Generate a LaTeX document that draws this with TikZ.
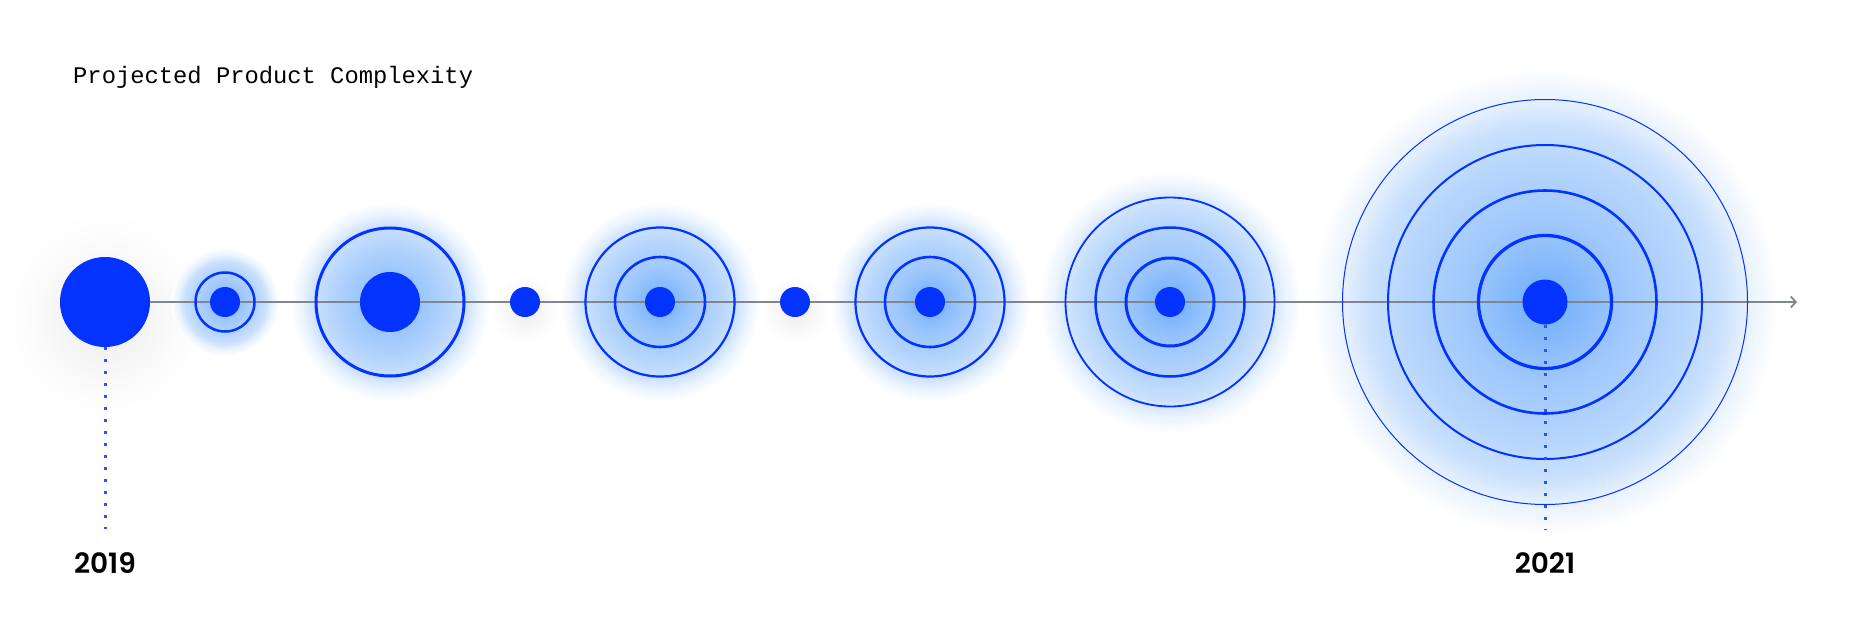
\documentclass[tikz,border=0pt]{standalone}
\usepackage{fontspec}
\newfontfamily\headfont{Liberation Mono}
\newfontfamily\yearfont{Poppins SemiBold}
\usetikzlibrary{arrows.meta,backgrounds}
\definecolor{pulseblue}{RGB}{4,51,255}
\definecolor{glowblue}{RGB}{110,172,250}
\definecolor{axisgray}{RGB}{128,134,142}
\definecolor{shadowgray}{RGB}{236,236,238}
\pgfdeclareradialshading{glowshade}{\pgfpoint{0bp}{0bp}}{color(0bp)=(glowblue); color(8bp)=(glowblue!68!white); color(15bp)=(glowblue!50!white); color(19bp)=(glowblue!36!white); color(22bp)=(glowblue!14!white); color(25bp)=(white); color(50bp)=(white)}
\pgfdeclareradialshading{shadowshade}{\pgfpoint{0bp}{0bp}}{color(0bp)=(shadowgray); color(10bp)=(shadowgray!55!white); color(19bp)=(shadowgray!15!white); color(25bp)=(white); color(50bp)=(white)}
\tikzset{
  dot/.style={circle, fill=pulseblue, inner sep=0pt, minimum size=#1},
  ring/.style={circle, draw=pulseblue, inner sep=0pt, minimum size=#1},
  halo/.style={circle, shade, shading=glowshade, inner sep=0pt, minimum size=#1},
  shadowhalo/.style={circle, shade, shading=shadowshade, inner sep=0pt, minimum size=#1},
  axis/.style={-{Straight Barb[length=5pt, width=11pt]}, line width=1.8pt, axisgray},
  guide/.style={line width=3pt, pulseblue!85!white, dash pattern=on 3pt off 9pt},
  title/.style={anchor=base west, inner sep=0pt, font=\headfont\fontsize{23.8pt}{28pt}\selectfont},
  year/.style={anchor=base, inner sep=0pt, font=\yearfont\fontsize{28pt}{32pt}\selectfont},
}

\begin{document}
\begin{tikzpicture}[x=1pt, y=-1pt]
\useasboundingbox (0,0) rectangle (1857,642);
\node[title] (head) at (73,84) {Projected Product Complexity};

% centres along the time line
\node[dot=90pt] (c1) at (105,302) {};
\node[dot=30pt] (c2) at (225,302) {};
\node[dot=60pt] (c3) at (390,302) {};
\node[dot=30pt] (c4) at (525,302) {};
\node[dot=30pt] (c5) at (660,302) {};
\node[dot=30pt] (c6) at (795,302) {};
\node[dot=30pt] (c7) at (930,302) {};
\node[dot=30pt] (c8) at (1170,302) {};
\node[dot=45pt] (c9) at (1545,302) {};
\coordinate (tip) at (1797,302);

\begin{scope}[on background layer]
  \foreach \x/\y/\d in {105/316/210, 525/310/72, 795/310/72}
    \node[shadowhalo=\d pt] at (\x,\y) {};
  \foreach \x/\d in {225/108, 390/200, 660/200, 930/200, 1170/262, 1545/468}
    \node[halo=\d pt] at (\x,302) {};
  \draw[axis] (c1) -- (tip);
\end{scope}

% rings
\foreach \x/\d/\w in {225/59/2.5, 390/148/3, 660/90/2.6, 660/149/2.2, 930/90/2.6, 930/149/2.2,
    1170/88/3, 1170/149/2.5, 1170/209/1.8,
    1545/133/3.3, 1545/223/2.6, 1545/314/2, 1545/405/1}
  \node[ring=\d pt, line width=\w pt] at (\x,302) {};

% years
\node[year] (y19) at (105,573) {2019};
\node[year] (y21) at (1545,573) {2021};
\coordinate (e19) at (105,529);
\coordinate (e21) at (1545,529);
\draw[guide] (c1) -- (e19);
\draw[guide] (c9) -- (e21);
\end{tikzpicture}
\end{document}
